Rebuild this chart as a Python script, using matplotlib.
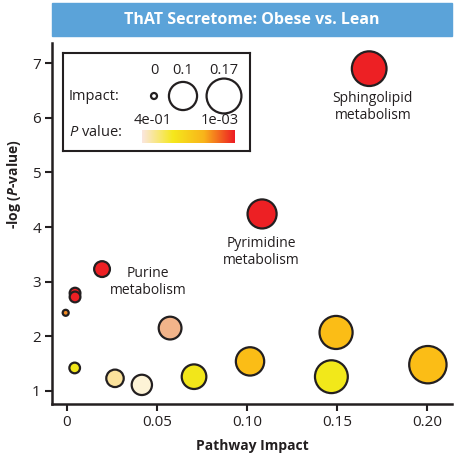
import numpy as np
import matplotlib
matplotlib.use('Agg')
import matplotlib.pyplot as plt
from matplotlib.colors import LinearSegmentedColormap
from matplotlib.patches import Rectangle

plt.rcParams['font.family'] = ['Open Sans', 'DejaVu Sans']
plt.rcParams['mathtext.fontset'] = 'custom'
plt.rcParams['mathtext.it'] = 'Open Sans:italic'
plt.rcParams['mathtext.bfit'] = 'Open Sans:italic:bold'
plt.rcParams['mathtext.rm'] = 'Open Sans'

# datos
impacto = [0.168, 0.1085, 0.0196, 0.0046, 0.0046, -0.0006, 0.0574, 0.0044,
           0.0268, 0.0417, 0.0707, 0.1018, 0.1496, 0.147, 0.2006]
log_p = [6.90, 4.24, 3.23, 2.79, 2.72, 2.43, 2.15, 1.42,
         1.23, 1.11, 1.26, 1.54, 2.07, 1.26, 1.48]
colores = ['#ed2024', '#ed2024', '#ed2024', '#ed2024', '#ed2024', '#f08a24', '#f2b48a',
           '#f2e61a', '#fbe29c', '#fdf3d6', '#f2e61a', '#fbbd16', '#fbbd16', '#f2e81a', '#fbbd16']
etiquetas = ['Sphingolipid\nmetabolism', 'Pyrimidine\nmetabolism', 'Purine\nmetabolism']
pos_etiquetas = [(0.170, 6.20), (0.108, 3.55), (0.045, 3.00)]
x_ticks = [0, 0.05, 0.10, 0.15, 0.20]
x_ticklabels = ['0', '0.05', '0.10', '0.15', '0.20']
y_ticks = [1, 2, 3, 4, 5, 6, 7]
leyenda_impacto = [0, 0.1, 0.17]
leyenda_impacto_txt = ['0', '0.1', '0.17']

oscuro = '#231f20'


def tamano(x):
    # radio en pixeles a partir del impacto -> area en pt^2
    r = 3 + 35 * np.sqrt(np.clip(np.asarray(x, dtype=float), 0, None))
    return (2 * r * 0.72) ** 2


fig = plt.figure(figsize=(4.56, 4.54), dpi=100)
W, H = 456, 454
ax = fig.add_axes([52 / W, 1 - 404 / H, 400 / W, 361 / H])

ax.scatter(impacto, log_p, s=tamano(impacto), c=colores, edgecolors=oscuro,
           linewidths=1.6, zorder=3)

for txt, (x, y) in zip(etiquetas, pos_etiquetas):
    ax.text(x, y, txt, ha='center', va='center', fontsize=10, color=oscuro,
            linespacing=1.2)

ax.set_xlim(-0.0082, 0.214)
ax.set_ylim(0.76, 7.37)
ax.set_xticks(x_ticks)
ax.set_xticklabels(x_ticklabels)
ax.set_yticks(y_ticks)
for s in ['top', 'right']:
    ax.spines[s].set_visible(False)
for s in ['left', 'bottom']:
    ax.spines[s].set_linewidth(1.8)
    ax.spines[s].set_color(oscuro)
ax.tick_params(direction='out', length=5, width=1.5, color=oscuro,
               labelsize=11, labelcolor=oscuro, pad=3)
ax.set_xlabel('Pathway Impact', fontsize=10, fontweight='bold', color=oscuro)
ax.xaxis.set_label_coords(0.5, -0.098)
ax.set_ylabel(r'-log ($\mathbfit{P}$-value)', fontsize=10, fontweight='bold',
              color=oscuro)
ax.yaxis.set_label_coords(-0.073, 0.61)

# barra del titulo
fig.patches.append(Rectangle((52 / W, 1 - 36 / H), 400 / W, 33 / H,
                             transform=fig.transFigure, color='#5ba3d9', zorder=0))
fig.text(252 / W, 1 - 19.5 / H, 'ThAT Secretome: Obese vs. Lean', ha='center',
         va='center', color='white', fontsize=11.5, fontweight='bold')

# leyenda
lg = fig.add_axes([63 / W, 1 - 151 / H, 187 / W, 98 / H])
lg.set_xticks([])
lg.set_yticks([])
for s in lg.spines.values():
    s.set_linewidth(1.5)
    s.set_color(oscuro)
lg.text(6, 44, 'Impact:', ha='left', va='center', fontsize=10.5, color=oscuro)
lg.text(6, 80, r'$\mathit{P}$ value:', ha='left', va='center', fontsize=10.5, color=oscuro)
lg.scatter([91, 120, 161], [43, 43, 43], s=tamano(leyenda_impacto), facecolors='white',
           edgecolors=oscuro, linewidths=1.6)
for xx, t in zip([91, 120, 161], leyenda_impacto_txt):
    lg.text(xx, 18, t, ha='center', va='center', fontsize=10.5, color=oscuro)
cmap = LinearSegmentedColormap.from_list('pval', ['#fbe6e0', '#f5e81c', '#f9b41a', '#ed1c24'])
grad = np.linspace(0, 1, 256).reshape(1, -1)
lg.imshow(grad, cmap=cmap, extent=[79, 172, 90, 77], aspect='auto')
lg.text(90, 68, '4e-01', ha='center', va='center', fontsize=10.5, color=oscuro)
lg.text(157, 68, '1e-03', ha='center', va='center', fontsize=10.5, color=oscuro)
lg.set_xlim(0, 187)
lg.set_ylim(98, 0)

fig.savefig('out.png', dpi=100)
